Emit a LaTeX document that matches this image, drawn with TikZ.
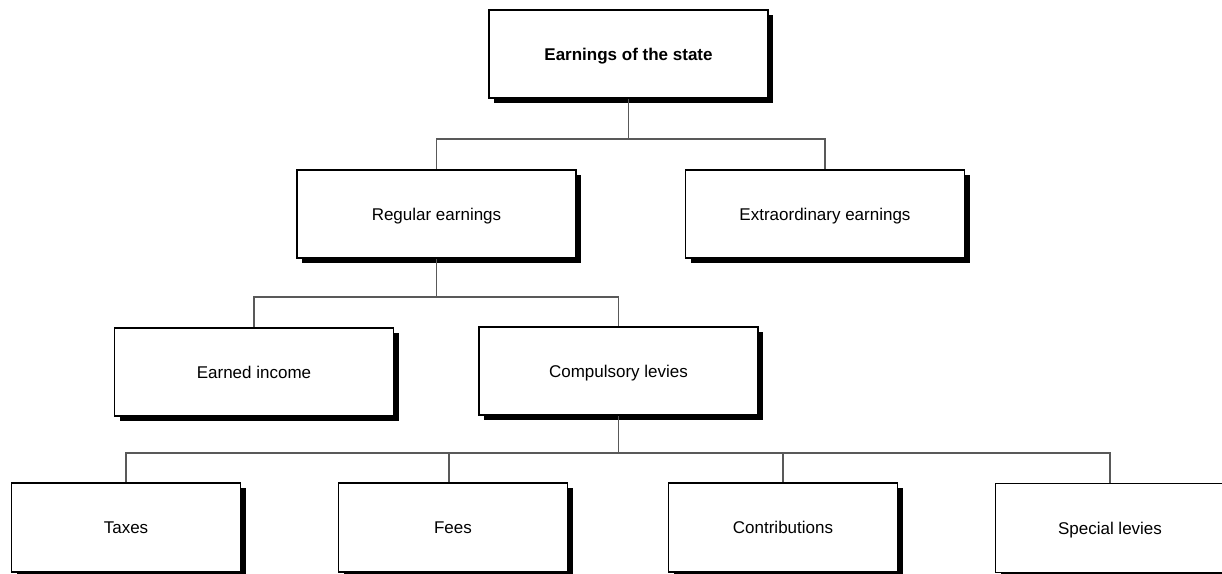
\documentclass[tikz,border=0pt]{standalone}
\usepackage{fontspec}
\setmainfont{Liberation Sans}
\usetikzlibrary{shadows}
\tikzset{
  box/.style={draw=black, line width=1.8pt, fill=white, inner sep=0pt,
    minimum width=279pt, minimum height=88pt, text height=12pt, text depth=0pt,
    font=\fontsize{17}{20}\selectfont,
    drop shadow={shadow xshift=5pt, shadow yshift=-5pt, opacity=1, fill=black}},
  smallbox/.style={box, minimum width=229pt, minimum height=89pt},
  conn/.style={draw=black!65, line width=1.3pt}
}
\begin{document}
\begin{tikzpicture}[x=1pt,y=-1pt]
\useasboundingbox (0,0) rectangle (1222,573);
\clip (0,0) rectangle (1222,573);
\fill[white] (0,0) rectangle (1222,573);

\node[box, font=\fontsize{17}{20}\selectfont\bfseries] (top) at (628.5,54) {Earnings of the state};
\node[box] (reg) at (436.5,214) {Regular earnings};
\node[box] (extra) at (825,214) {Extraordinary earnings};
\node[box] (earned) at (254,372) {Earned income};
\node[box] (comp) at (618.5,371) {Compulsory levies};
\node[smallbox] (taxes) at (126,527.5) {Taxes};
\node[smallbox] (fees) at (453,527.5) {Fees};
\node[smallbox] (contr) at (783,527.5) {Contributions};
\node[smallbox] (spec) at (1110,528) {Special levies};

\coordinate (b1) at (0,139);
\coordinate (b2) at (0,297);
\coordinate (b3) at (0,453);

\draw[conn] (top.south) -- (top.south |- b1);
\draw[conn] (reg.north) -- (reg.north |- b1) -- (extra.north |- b1) -- (extra.north);
\draw[conn] (reg.south) -- (reg.south |- b2);
\draw[conn] (earned.north) -- (earned.north |- b2) -- (comp.north |- b2) -- (comp.north);
\draw[conn] (comp.south) -- (comp.south |- b3);
\draw[conn] (taxes.north) -- (taxes.north |- b3) -- (spec.north |- b3) -- (spec.north);
\draw[conn] ([xshift=-4pt]fees.north) -- ([xshift=-4pt]fees.north |- b3);
\draw[conn] (contr.north) -- (contr.north |- b3);
\end{tikzpicture}
\end{document}
